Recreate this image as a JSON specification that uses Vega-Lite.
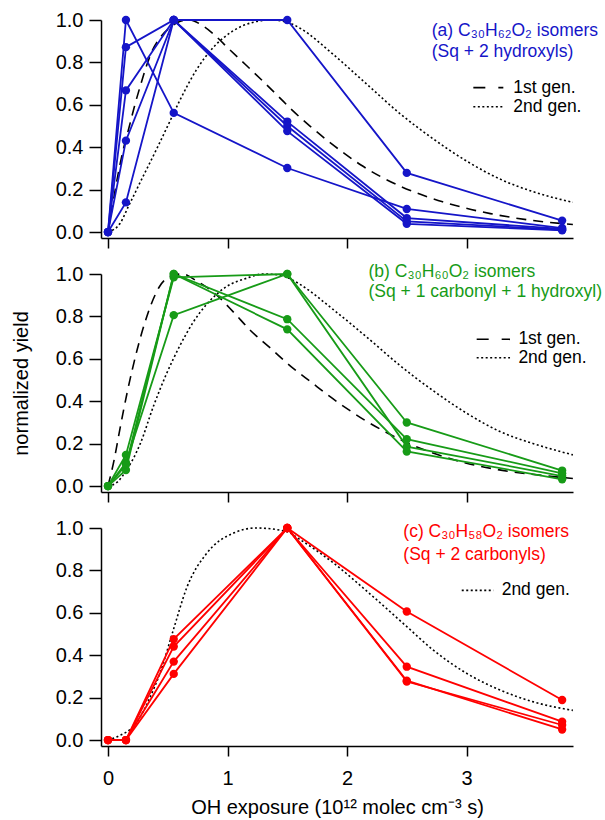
{
  "$schema": "https://vega.github.io/schema/vega-lite/v6.json",
  "padding": {"left": 11, "top": 10, "right": 1, "bottom": 2},
  "background": "white",
  "bounds": "flush",
  "spacing": 36,
  "config": {
    "view": {"stroke": null},
    "font": "Liberation Sans",
    "axis": {
      "labelFont": "Liberation Sans", "titleFont": "Liberation Sans",
      "labelFontSize": 20, "titleFontSize": 20, "titleFontWeight": "normal",
      "labelColor": "#000", "titleColor": "#000", "domainColor": "#000", "tickColor": "#000",
      "domainWidth": 1.5, "tickWidth": 1.5, "grid": false
    },
    "text": {"font": "Liberation Sans", "fontSize": 17.5}
  },
  "datasets": {
    "s1": [
      {"s": "A", "x": 0, "y": 0}, {"s": "A", "x": 0.15, "y": 1.0}, {"s": "A", "x": 0.55, "y": 0.562}, {"s": "A", "x": 1.5, "y": 0.302}, {"s": "A", "x": 2.5, "y": 0.109}, {"s": "A", "x": 3.8, "y": 0.019},
      {"s": "B", "x": 0, "y": 0}, {"s": "B", "x": 0.15, "y": 0.872}, {"s": "B", "x": 0.55, "y": 1.0}, {"s": "B", "x": 1.5, "y": 1.0}, {"s": "B", "x": 2.5, "y": 0.279}, {"s": "B", "x": 3.8, "y": 0.054},
      {"s": "C", "x": 0, "y": 0}, {"s": "C", "x": 0.15, "y": 0.668}, {"s": "C", "x": 0.55, "y": 1.0}, {"s": "C", "x": 1.5, "y": 0.521}, {"s": "C", "x": 2.5, "y": 0.066}, {"s": "C", "x": 3.8, "y": 0.015},
      {"s": "D", "x": 0, "y": 0}, {"s": "D", "x": 0.15, "y": 0.431}, {"s": "D", "x": 0.55, "y": 1.0}, {"s": "D", "x": 1.5, "y": 0.5}, {"s": "D", "x": 2.5, "y": 0.05}, {"s": "D", "x": 3.8, "y": 0.011},
      {"s": "E", "x": 0, "y": 0}, {"s": "E", "x": 0.15, "y": 0.14}, {"s": "E", "x": 0.55, "y": 1.0}, {"s": "E", "x": 1.5, "y": 0.476}, {"s": "E", "x": 2.5, "y": 0.039}, {"s": "E", "x": 3.8, "y": 0.008}
    ],
    "c1": [
      {"g": "1st", "x": 0, "y": 0}, {"g": "1st", "x": 0.036, "y": 0.12}, {"g": "1st", "x": 0.08, "y": 0.26}, {"g": "1st", "x": 0.128, "y": 0.39}, {"g": "1st", "x": 0.17, "y": 0.48}, {"g": "1st", "x": 0.22, "y": 0.59}, {"g": "1st", "x": 0.276, "y": 0.7}, {"g": "1st", "x": 0.32, "y": 0.78}, {"g": "1st", "x": 0.366, "y": 0.85}, {"g": "1st", "x": 0.44, "y": 0.92}, {"g": "1st", "x": 0.52, "y": 0.965}, {"g": "1st", "x": 0.6, "y": 0.993}, {"g": "1st", "x": 0.68, "y": 1.0}, {"g": "1st", "x": 0.8, "y": 0.97}, {"g": "1st", "x": 0.9, "y": 0.925}, {"g": "1st", "x": 1.0, "y": 0.87}, {"g": "1st", "x": 1.15, "y": 0.79}, {"g": "1st", "x": 1.29, "y": 0.715}, {"g": "1st", "x": 1.425, "y": 0.64}, {"g": "1st", "x": 1.55, "y": 0.57}, {"g": "1st", "x": 1.69, "y": 0.5}, {"g": "1st", "x": 1.84, "y": 0.43}, {"g": "1st", "x": 1.98, "y": 0.37}, {"g": "1st", "x": 2.12, "y": 0.315}, {"g": "1st", "x": 2.28, "y": 0.262}, {"g": "1st", "x": 2.45, "y": 0.215}, {"g": "1st", "x": 2.62, "y": 0.177}, {"g": "1st", "x": 2.8, "y": 0.143}, {"g": "1st", "x": 2.97, "y": 0.116}, {"g": "1st", "x": 3.2, "y": 0.087}, {"g": "1st", "x": 3.4, "y": 0.067}, {"g": "1st", "x": 3.64, "y": 0.049}, {"g": "1st", "x": 3.89, "y": 0.036},
      {"g": "2nd", "x": 0, "y": 0}, {"g": "2nd", "x": 0.1, "y": 0.04}, {"g": "2nd", "x": 0.17, "y": 0.12}, {"g": "2nd", "x": 0.3, "y": 0.27}, {"g": "2nd", "x": 0.41, "y": 0.395}, {"g": "2nd", "x": 0.52, "y": 0.525}, {"g": "2nd", "x": 0.6, "y": 0.62}, {"g": "2nd", "x": 0.74, "y": 0.765}, {"g": "2nd", "x": 0.88, "y": 0.87}, {"g": "2nd", "x": 1.05, "y": 0.95}, {"g": "2nd", "x": 1.22, "y": 0.99}, {"g": "2nd", "x": 1.36, "y": 1.0}, {"g": "2nd", "x": 1.5, "y": 0.99}, {"g": "2nd", "x": 1.61, "y": 0.96}, {"g": "2nd", "x": 1.88, "y": 0.84}, {"g": "2nd", "x": 2.17, "y": 0.695}, {"g": "2nd", "x": 2.44, "y": 0.56}, {"g": "2nd", "x": 2.72, "y": 0.44}, {"g": "2nd", "x": 3.0, "y": 0.335}, {"g": "2nd", "x": 3.28, "y": 0.25}, {"g": "2nd", "x": 3.56, "y": 0.19}, {"g": "2nd", "x": 3.89, "y": 0.14}
    ],
    "s2": [
      {"s": "G1", "x": 0, "y": 0}, {"s": "G1", "x": 0.15, "y": 0.11}, {"s": "G1", "x": 0.55, "y": 0.806}, {"s": "G1", "x": 1.5, "y": 1.0}, {"s": "G1", "x": 2.5, "y": 0.3}, {"s": "G1", "x": 3.8, "y": 0.073},
      {"s": "G2", "x": 0, "y": 0}, {"s": "G2", "x": 0.15, "y": 0.147}, {"s": "G2", "x": 0.55, "y": 0.984}, {"s": "G2", "x": 1.5, "y": 1.0}, {"s": "G2", "x": 2.5, "y": 0.186}, {"s": "G2", "x": 3.8, "y": 0.047},
      {"s": "G3", "x": 0, "y": 0}, {"s": "G3", "x": 0.15, "y": 0.076}, {"s": "G3", "x": 0.55, "y": 1.0}, {"s": "G3", "x": 1.5, "y": 0.787}, {"s": "G3", "x": 2.5, "y": 0.221}, {"s": "G3", "x": 3.8, "y": 0.06},
      {"s": "G4", "x": 0, "y": 0}, {"s": "G4", "x": 0.15, "y": 0.1}, {"s": "G4", "x": 0.55, "y": 1.0}, {"s": "G4", "x": 1.5, "y": 0.739}, {"s": "G4", "x": 2.5, "y": 0.163}, {"s": "G4", "x": 3.8, "y": 0.032}
    ],
    "c2": [
      {"g": "1st", "x": 0, "y": 0}, {"g": "1st", "x": 0.05, "y": 0.12}, {"g": "1st", "x": 0.1, "y": 0.27}, {"g": "1st", "x": 0.16, "y": 0.44}, {"g": "1st", "x": 0.245, "y": 0.645}, {"g": "1st", "x": 0.325, "y": 0.8}, {"g": "1st", "x": 0.43, "y": 0.94}, {"g": "1st", "x": 0.55, "y": 0.995}, {"g": "1st", "x": 0.62, "y": 1.0}, {"g": "1st", "x": 0.74, "y": 0.968}, {"g": "1st", "x": 0.91, "y": 0.9}, {"g": "1st", "x": 1.05, "y": 0.82}, {"g": "1st", "x": 1.19, "y": 0.735}, {"g": "1st", "x": 1.36, "y": 0.65}, {"g": "1st", "x": 1.55, "y": 0.555}, {"g": "1st", "x": 1.7, "y": 0.49}, {"g": "1st", "x": 1.85, "y": 0.425}, {"g": "1st", "x": 2.0, "y": 0.365}, {"g": "1st", "x": 2.15, "y": 0.31}, {"g": "1st", "x": 2.3, "y": 0.262}, {"g": "1st", "x": 2.5, "y": 0.205}, {"g": "1st", "x": 2.75, "y": 0.15}, {"g": "1st", "x": 3.0, "y": 0.108}, {"g": "1st", "x": 3.3, "y": 0.074}, {"g": "1st", "x": 3.6, "y": 0.052}, {"g": "1st", "x": 3.89, "y": 0.036},
      {"g": "2nd", "x": 0, "y": 0}, {"g": "2nd", "x": 0.08, "y": 0.02}, {"g": "2nd", "x": 0.156, "y": 0.076}, {"g": "2nd", "x": 0.27, "y": 0.2}, {"g": "2nd", "x": 0.38, "y": 0.376}, {"g": "2nd", "x": 0.49, "y": 0.53}, {"g": "2nd", "x": 0.6, "y": 0.66}, {"g": "2nd", "x": 0.71, "y": 0.77}, {"g": "2nd", "x": 0.83, "y": 0.86}, {"g": "2nd", "x": 0.99, "y": 0.94}, {"g": "2nd", "x": 1.16, "y": 0.98}, {"g": "2nd", "x": 1.3, "y": 1.0}, {"g": "2nd", "x": 1.44, "y": 0.995}, {"g": "2nd", "x": 1.55, "y": 0.97}, {"g": "2nd", "x": 1.61, "y": 0.95}, {"g": "2nd", "x": 1.89, "y": 0.83}, {"g": "2nd", "x": 2.17, "y": 0.7}, {"g": "2nd", "x": 2.44, "y": 0.57}, {"g": "2nd", "x": 2.72, "y": 0.45}, {"g": "2nd", "x": 3.0, "y": 0.344}, {"g": "2nd", "x": 3.28, "y": 0.257}, {"g": "2nd", "x": 3.56, "y": 0.2}, {"g": "2nd", "x": 3.89, "y": 0.147}
    ],
    "s3": [
      {"s": "R1", "x": 0, "y": 0}, {"s": "R1", "x": 0.15, "y": 0}, {"s": "R1", "x": 0.55, "y": 0.476}, {"s": "R1", "x": 1.5, "y": 1.0}, {"s": "R1", "x": 2.5, "y": 0.606}, {"s": "R1", "x": 3.8, "y": 0.189},
      {"s": "R2", "x": 0, "y": 0}, {"s": "R2", "x": 0.15, "y": 0}, {"s": "R2", "x": 0.55, "y": 0.441}, {"s": "R2", "x": 1.5, "y": 1.0}, {"s": "R2", "x": 2.5, "y": 0.346}, {"s": "R2", "x": 3.8, "y": 0.087},
      {"s": "R3", "x": 0, "y": 0}, {"s": "R3", "x": 0.15, "y": 0}, {"s": "R3", "x": 0.55, "y": 0.37}, {"s": "R3", "x": 1.5, "y": 1.0}, {"s": "R3", "x": 2.5, "y": 0.276}, {"s": "R3", "x": 3.8, "y": 0.071},
      {"s": "R4", "x": 0, "y": 0}, {"s": "R4", "x": 0.15, "y": 0}, {"s": "R4", "x": 0.55, "y": 0.312}, {"s": "R4", "x": 1.5, "y": 1.0}, {"s": "R4", "x": 2.5, "y": 0.28}, {"s": "R4", "x": 3.8, "y": 0.05}
    ],
    "c3": [
      {"g": "2nd", "x": 0, "y": 0}, {"g": "2nd", "x": 0.1, "y": 0.022}, {"g": "2nd", "x": 0.21, "y": 0.063}, {"g": "2nd", "x": 0.27, "y": 0.11}, {"g": "2nd", "x": 0.35, "y": 0.2}, {"g": "2nd", "x": 0.435, "y": 0.315}, {"g": "2nd", "x": 0.547, "y": 0.52}, {"g": "2nd", "x": 0.66, "y": 0.72}, {"g": "2nd", "x": 0.825, "y": 0.88}, {"g": "2nd", "x": 1.05, "y": 0.976}, {"g": "2nd", "x": 1.24, "y": 1.0}, {"g": "2nd", "x": 1.49, "y": 0.984}, {"g": "2nd", "x": 1.607, "y": 0.945}, {"g": "2nd", "x": 1.886, "y": 0.835}, {"g": "2nd", "x": 2.17, "y": 0.7}, {"g": "2nd", "x": 2.5, "y": 0.535}, {"g": "2nd", "x": 2.72, "y": 0.425}, {"g": "2nd", "x": 3.0, "y": 0.315}, {"g": "2nd", "x": 3.28, "y": 0.236}, {"g": "2nd", "x": 3.56, "y": 0.18}, {"g": "2nd", "x": 3.89, "y": 0.14}
    ],
    "one": [{}]
  },
  "vconcat": [
    {
      "width": 472, "height": 218,
      "layer": [
        {
          "data": {"name": "c1"},
          "mark": {"type": "line", "color": "#000", "strokeWidth": 1.6, "interpolate": "monotone"},
          "encoding": {
            "x": {"field": "x", "type": "quantitative", "title": null, "scale": {"domain": [-0.0586, 3.891], "nice": false, "zero": false}, "axis": {"values": [0, 1, 2, 3], "labels": false, "tickSize": 10, "title": null}},
            "y": {"field": "y", "type": "quantitative", "title": null, "scale": {"domain": [-0.028, 1.0], "nice": false, "zero": false}, "axis": {"values": [0, 0.2, 0.4, 0.6, 0.8, 1.0], "format": ".1f", "tickSize": 12, "labelPadding": 6, "title": null}},
            "strokeDash": {"field": "g", "type": "nominal", "scale": {"domain": ["1st", "2nd"], "range": [[10, 7], [2, 2.5]]}, "legend": null}
          }
        },
        {
          "data": {"name": "s1"},
          "mark": {"type": "line", "color": "#1515c8", "strokeWidth": 1.8, "point": {"filled": true, "size": 70, "color": "#1515c8"}},
          "encoding": {
            "x": {"field": "x", "type": "quantitative", "title": null},
            "y": {"field": "y", "type": "quantitative", "title": null},
            "detail": {"field": "s"}
          }
        },
        {"data": {"name": "one"}, "mark": {"type": "text", "text": "(a) C₃₀H₆₂O₂ isomers", "align": "left", "baseline": "middle", "color": "#1515c8"}, "encoding": {"x": {"datum": 2.709}, "y": {"datum": 0.948}}},
        {"data": {"name": "one"}, "mark": {"type": "text", "text": "(Sq + 2 hydroxyls)", "align": "left", "baseline": "middle", "color": "#1515c8"}, "encoding": {"x": {"datum": 2.709}, "y": {"datum": 0.847}}},
        {"data": {"name": "one"}, "mark": {"type": "rule", "color": "#000", "strokeWidth": 1.6, "strokeDash": [12, 13]}, "encoding": {"x": {"datum": 3.057}, "x2": {"datum": 3.308}, "y": {"datum": 0.681}}},
        {"data": {"name": "one"}, "mark": {"type": "text", "text": "1st gen.", "align": "left", "baseline": "middle", "color": "#000"}, "encoding": {"x": {"datum": 3.392}, "y": {"datum": 0.681}}},
        {"data": {"name": "one"}, "mark": {"type": "rule", "color": "#000", "strokeWidth": 1.6, "strokeDash": [2, 2.5]}, "encoding": {"x": {"datum": 3.057}, "x2": {"datum": 3.308}, "y": {"datum": 0.591}}},
        {"data": {"name": "one"}, "mark": {"type": "text", "text": "2nd gen.", "align": "left", "baseline": "middle", "color": "#000"}, "encoding": {"x": {"datum": 3.392}, "y": {"datum": 0.591}}}
      ]
    },
    {
      "width": 472, "height": 218,
      "layer": [
        {
          "data": {"name": "c2"},
          "mark": {"type": "line", "color": "#000", "strokeWidth": 1.6, "interpolate": "monotone"},
          "encoding": {
            "x": {"field": "x", "type": "quantitative", "title": null, "scale": {"domain": [-0.0586, 3.891], "nice": false, "zero": false}, "axis": {"values": [0, 1, 2, 3], "labels": false, "tickSize": 10, "title": null}},
            "y": {"field": "y", "type": "quantitative", "scale": {"domain": [-0.028, 1.0], "nice": false, "zero": false}, "axis": {"values": [0, 0.2, 0.4, 0.6, 0.8, 1.0], "format": ".1f", "tickSize": 12, "labelPadding": 6, "title": "normalized yield", "titlePadding": 24}},
            "strokeDash": {"field": "g", "type": "nominal", "scale": {"domain": ["1st", "2nd"], "range": [[10, 7], [2, 2.5]]}, "legend": null}
          }
        },
        {
          "data": {"name": "s2"},
          "mark": {"type": "line", "color": "#179b17", "strokeWidth": 1.8, "point": {"filled": true, "size": 70, "color": "#179b17"}},
          "encoding": {
            "x": {"field": "x", "type": "quantitative", "title": null},
            "y": {"field": "y", "type": "quantitative"},
            "detail": {"field": "s"}
          }
        },
        {"data": {"name": "one"}, "mark": {"type": "text", "text": "(b) C₃₀H₆₀O₂ isomers", "align": "left", "baseline": "middle", "color": "#179b17"}, "encoding": {"x": {"datum": 2.18}, "y": {"datum": 1.011}}},
        {"data": {"name": "one"}, "mark": {"type": "text", "text": "(Sq + 1 carbonyl + 1 hydroxyl)", "align": "left", "baseline": "middle", "color": "#179b17"}, "encoding": {"x": {"datum": 2.18}, "y": {"datum": 0.913}}},
        {"data": {"name": "one"}, "mark": {"type": "rule", "color": "#000", "strokeWidth": 1.6, "strokeDash": [12, 13]}, "encoding": {"x": {"datum": 3.085}, "x2": {"datum": 3.364}, "y": {"datum": 0.692}}},
        {"data": {"name": "one"}, "mark": {"type": "text", "text": "1st gen.", "align": "left", "baseline": "middle", "color": "#000"}, "encoding": {"x": {"datum": 3.434}, "y": {"datum": 0.692}}},
        {"data": {"name": "one"}, "mark": {"type": "rule", "color": "#000", "strokeWidth": 1.6, "strokeDash": [2, 2.5]}, "encoding": {"x": {"datum": 3.085}, "x2": {"datum": 3.364}, "y": {"datum": 0.605}}},
        {"data": {"name": "one"}, "mark": {"type": "text", "text": "2nd gen.", "align": "left", "baseline": "middle", "color": "#000"}, "encoding": {"x": {"datum": 3.434}, "y": {"datum": 0.605}}}
      ]
    },
    {
      "width": 472, "height": 218,
      "layer": [
        {
          "data": {"name": "c3"},
          "mark": {"type": "line", "color": "#000", "strokeWidth": 1.6, "interpolate": "monotone", "strokeDash": [2, 2.5]},
          "encoding": {
            "x": {"field": "x", "type": "quantitative", "scale": {"domain": [-0.0586, 3.891], "nice": false, "zero": false}, "axis": {"values": [0, 1, 2, 3], "format": "d", "tickSize": 10, "labelPadding": 12, "title": "OH exposure (10¹² molec cm⁻³ s)", "titlePadding": 9}},
            "y": {"field": "y", "type": "quantitative", "title": null, "scale": {"domain": [-0.028, 1.0], "nice": false, "zero": false}, "axis": {"values": [0, 0.2, 0.4, 0.6, 0.8, 1.0], "format": ".1f", "tickSize": 12, "labelPadding": 6, "title": null}}
          }
        },
        {
          "data": {"name": "s3"},
          "mark": {"type": "line", "color": "#ff0000", "strokeWidth": 1.8, "point": {"filled": true, "size": 70, "color": "#ff0000"}},
          "encoding": {
            "x": {"field": "x", "type": "quantitative"},
            "y": {"field": "y", "type": "quantitative", "title": null},
            "detail": {"field": "s"}
          }
        },
        {"data": {"name": "one"}, "mark": {"type": "text", "text": "(c) C₃₀H₅₈O₂ isomers", "align": "left", "baseline": "middle", "color": "#ff0000"}, "encoding": {"x": {"datum": 2.471}, "y": {"datum": 0.98}}},
        {"data": {"name": "one"}, "mark": {"type": "text", "text": "(Sq + 2 carbonyls)", "align": "left", "baseline": "middle", "color": "#ff0000"}, "encoding": {"x": {"datum": 2.471}, "y": {"datum": 0.874}}},
        {"data": {"name": "one"}, "mark": {"type": "rule", "color": "#000", "strokeWidth": 1.6, "strokeDash": [2, 2.5]}, "encoding": {"x": {"datum": 2.96}, "x2": {"datum": 3.225}, "y": {"datum": 0.706}}},
        {"data": {"name": "one"}, "mark": {"type": "text", "text": "2nd gen.", "align": "left", "baseline": "middle", "color": "#000"}, "encoding": {"x": {"datum": 3.294}, "y": {"datum": 0.706}}}
      ]
    }
  ]
}
